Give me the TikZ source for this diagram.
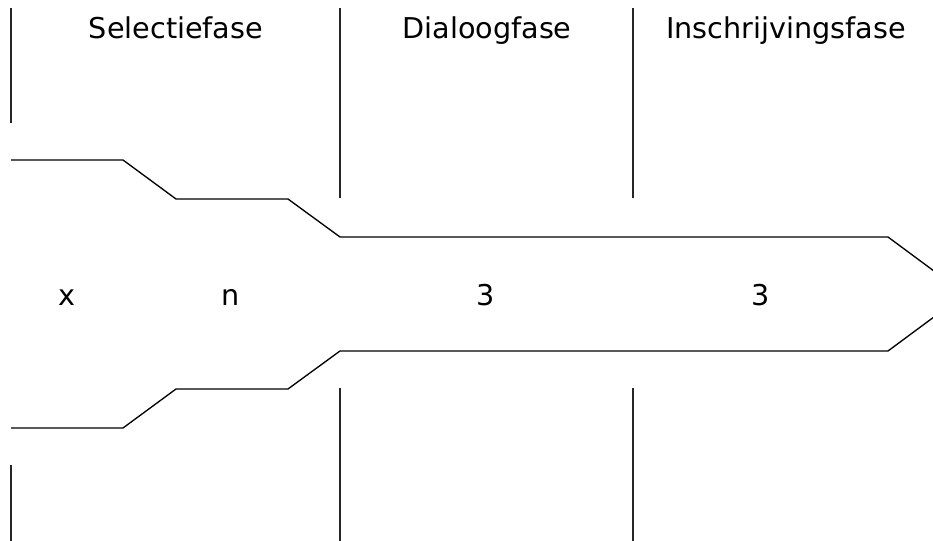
\documentclass[tikz,border=0pt]{standalone}
\usepackage{fontspec}
\setmainfont{DejaVu Sans}
\usetikzlibrary{positioning}

\begin{document}
\begin{tikzpicture}[
						x=0.75pt, y=-0.75pt,
						% Style for the phase separators
						phase_line/.style={
							draw=black!85, line width=1pt
						},
						% Style for the funnel outline
						funnel_line/.style={
							draw=black, line width=1pt, line join=miter
						},
						% Labels
						phase_label/.style={
							inner sep=0pt, anchor=base, font=\fontsize{21.5}{26}\selectfont
						},
						count_label/.style={
							inner sep=0pt, anchor=base, font=\fontsize{21.5}{26}\selectfont
						}
						]
						\useasboundingbox (0,0) rectangle (933,541);
						\clip (0,0) rectangle (933,541);
						
						% Phase separators (upper and lower parts)
						\draw[phase_line] (11,8) -- (11,123);
						\draw[phase_line] (11,465) -- (11,541);
						\draw[phase_line] (340,8) -- (340,198);
						\draw[phase_line] (340,388) -- (340,541);
						\draw[phase_line] (633,8) -- (633,198);
						\draw[phase_line] (633,388) -- (633,541);
						
						% Funnel: top and bottom edges
						\draw[funnel_line] (11,160) -- (123,160) -- (176,199) -- (288,199)
							-- (340,237) -- (888,237) -- (965,294);
						\draw[funnel_line] (11,428) -- (123,428) -- (176,389) -- (288,389)
							-- (340,351) -- (888,351) -- (965,294);
						
						% Phase names
						\node[phase_label] (selectie) at (176,39) {Selectiefase};
						\node[phase_label] (dialoog) at (487,39) {Dialoogfase};
						\node[phase_label] (inschrijving) at (786,39) {Inschrijvingsfase};
						
						% Numbers in the funnel
						\node[count_label] (cx) at (67,306) {x};
						\node[count_label] (cn) at (231,306) {n};
						\node[count_label] (cd) at (486,306) {3};
						\node[count_label] (ci) at (761,306) {3};
						
					\end{tikzpicture}
\end{document}
